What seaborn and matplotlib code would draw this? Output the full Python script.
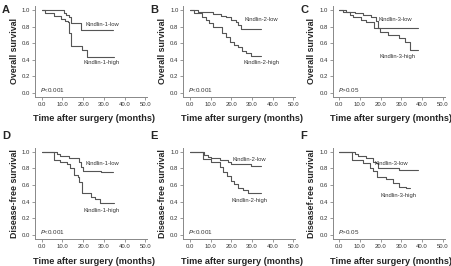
import pandas as pd
import matplotlib.pyplot as plt
import seaborn as sns

# survival curves (time in months, survival fraction, steps-post)
a_low_t = [0, 10.6, 11.7, 13.4, 14.3, 19.2, 34.5]
a_low_s = [1.0, 0.96, 0.94, 0.91, 0.84, 0.76, 0.76]
a_high_t = [0, 1.6, 5.7, 9.4, 11.0, 12.7, 13.4, 14.2, 19.5, 21.7, 34.7]
a_high_s = [1.0, 0.96, 0.93, 0.89, 0.87, 0.85, 0.72, 0.56, 0.52, 0.43, 0.43]

b_low_t = [0, 3.7, 11.2, 15.2, 17.3, 20.0, 22.4, 23.2, 24.8, 34.5]
b_low_s = [1.0, 0.98, 0.95, 0.93, 0.91, 0.88, 0.86, 0.82, 0.77, 0.77]
b_high_t = [0, 2.1, 5.6, 8.0, 9.3, 11.2, 15.7, 17.3, 19.2, 21.2, 23.2, 25.3, 27.2, 29.6, 34.5]
b_high_s = [1.0, 0.96, 0.92, 0.88, 0.84, 0.79, 0.72, 0.67, 0.61, 0.58, 0.55, 0.51, 0.48, 0.44, 0.44]

c_low_t = [0, 3.5, 7.5, 11.5, 15.5, 17.6, 19.0, 38.0]
c_low_s = [1.0, 0.98, 0.96, 0.94, 0.91, 0.87, 0.78, 0.78]
c_high_t = [0, 1.6, 5.0, 6.7, 10.4, 13.0, 17.0, 19.5, 23.5, 29.0, 32.0, 34.0, 38.0]
c_high_s = [1.0, 0.97, 0.94, 0.91, 0.88, 0.85, 0.78, 0.73, 0.70, 0.66, 0.61, 0.52, 0.52]

d_low_t = [0, 7.3, 9.0, 13.0, 18.2, 19.2, 19.7, 28.5, 34.5]
d_low_s = [1.0, 0.97, 0.95, 0.93, 0.88, 0.82, 0.77, 0.76, 0.76]
d_high_t = [0, 6.0, 9.0, 12.2, 13.8, 15.8, 17.4, 18.2, 19.5, 24.0, 25.7, 28.0, 34.7]
d_high_s = [1.0, 0.90, 0.88, 0.85, 0.80, 0.72, 0.70, 0.64, 0.50, 0.46, 0.43, 0.39, 0.39]

e_low_t = [0, 6.7, 8.8, 10.4, 14.4, 18.4, 20.0, 29.6, 34.5]
e_low_s = [1.0, 0.96, 0.94, 0.92, 0.90, 0.88, 0.85, 0.83, 0.83]
e_high_t = [0, 6.4, 10.4, 14.4, 16.0, 18.0, 20.0, 21.2, 23.2, 25.6, 28.0, 34.5]
e_high_s = [1.0, 0.91, 0.88, 0.82, 0.76, 0.71, 0.65, 0.61, 0.57, 0.54, 0.51, 0.51]

f_low_t = [0, 7.5, 9.0, 13.0, 16.3, 17.6, 18.7, 29.0, 38.0]
f_low_s = [1.0, 0.97, 0.95, 0.93, 0.88, 0.87, 0.81, 0.78, 0.78]
f_high_t = [0, 6.0, 11.5, 14.7, 16.3, 18.3, 22.8, 26.0, 29.0, 32.4, 34.0]
f_high_s = [1.0, 0.90, 0.87, 0.80, 0.77, 0.70, 0.67, 0.62, 0.58, 0.56, 0.56]

letters = ['A', 'B', 'C', 'D', 'E', 'F']
genes = ['Kindlin-1', 'Kindlin-2', 'Kindlin-3'] * 2
ylabels = ['Overall survival'] * 3 + ['Disease-free survival'] * 2 + ['Diseasef-ree survival']
pvals = ['<0.001', '<0.001', '>0.05', '<0.001', '<0.001', '>0.05']
xticks = [0, 10, 20, 30, 40, 50]
yticks = [0.0, 0.2, 0.4, 0.6, 0.8, 1.0]

curves = [
    (a_low_t, a_low_s, a_high_t, a_high_s),
    (b_low_t, b_low_s, b_high_t, b_high_s),
    (c_low_t, c_low_s, c_high_t, c_high_s),
    (d_low_t, d_low_s, d_high_t, d_high_s),
    (e_low_t, e_low_s, e_high_t, e_high_s),
    (f_low_t, f_low_s, f_high_t, f_high_s),
]

# label anchor points (months, survival)
low_pos = [(21.2, 0.83), (26.4, 0.88), (18.8, 0.89), (21.2, 0.86), (20.5, 0.91), (17.1, 0.86)]
high_pos = [(20.0, 0.37), (26.1, 0.37), (19.6, 0.44), (20.4, 0.30), (20.0, 0.41), (20.0, 0.47)]

sns.set_style('ticks')
plt.rcParams['font.family'] = ['Liberation Sans', 'DejaVu Sans']

fig = plt.figure(figsize=(4.52, 2.66), dpi=100)
lefts = [0.0778, 0.4056, 0.7358]
bottoms = [0.6365, 0.1024]
heights = [0.3417, 0.343]
letter_y = [0.962, 0.488]
line_col = '#555555'
axis_col = '#888888'

for i in range(6):
    r, c = divmod(i, 3)
    ax = fig.add_axes([lefts[c], bottoms[r], 0.248, heights[r]])
    lt, ls, ht, hs = curves[i]
    df = pd.concat([
        pd.DataFrame({'t': lt, 's': ls, 'grp': 'low'}),
        pd.DataFrame({'t': ht, 's': hs, 'grp': 'high'}),
    ])
    sns.lineplot(data=df, x='t', y='s', units='grp', estimator=None,
                 drawstyle='steps-post', color=line_col, linewidth=0.8, ax=ax)
    ax.set_xlim(-3.2, 51)
    ax.set_ylim(-0.045, 1.05)
    ax.set_xticks(xticks)
    ax.set_xticklabels([f'{v:.1f}' for v in xticks])
    ax.set_yticks(yticks)
    ax.set_yticklabels([f'{v:.1f}' for v in yticks])
    ax.tick_params(labelsize=4.3, length=2, width=0.6, pad=1.5,
                   color=axis_col, labelcolor='#333333')
    sns.despine(ax=ax)
    for sp in ['left', 'bottom']:
        ax.spines[sp].set_color(axis_col)
        ax.spines[sp].set_linewidth(0.7)
    ax.set_xlabel('Time after surgery (months)', fontsize=6.6, fontweight='bold')
    ax.set_ylabel(ylabels[i], fontsize=6.4, fontweight='bold')
    ax.xaxis.set_label_coords(0.525, -0.19 if r == 0 else -0.2)
    ax.yaxis.set_label_coords(-0.145, 0.5)

    ax.text(low_pos[i][0], low_pos[i][1], genes[i] + '-low', fontsize=4.2,
            color='#333333', va='center', ha='left')
    ax.text(high_pos[i][0], high_pos[i][1], genes[i] + '-high', fontsize=4.2,
            color='#333333', va='center', ha='left')
    ax.text(-0.8, 0.04, '$P$' + pvals[i], fontsize=4.5, color='#333333',
            va='center', ha='left')
    fig.text([0.004, 0.332, 0.664][c], letter_y[r], letters[i], fontsize=8,
             fontweight='bold', va='center', ha='left')

fig.savefig('out.png', dpi=100)
